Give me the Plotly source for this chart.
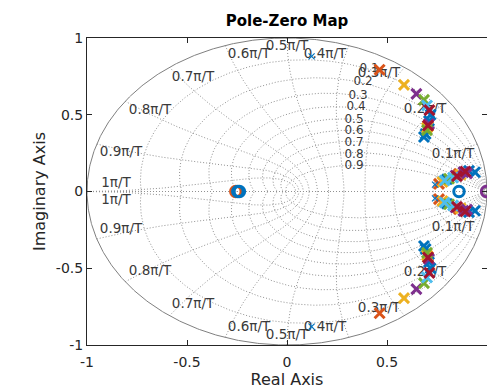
import numpy as np
import plotly.graph_objects as go

# ---------------- data ----------------
colors = ['#0072BD', '#D95319', '#EDB120', '#7E2F8E', '#77AC30', '#4DBEEE', '#A2142F']

# poles in the upper half plane (each also has its conjugate), one pair of lists per colour
blue_re = [0.718, 0.710, 0.693, 0.685, 0.800, 0.910, 0.940]
blue_im = [0.500, 0.460, 0.375, 0.355, 0.080, 0.135, 0.125]
orange_re = [0.463, 0.705, 0.760, 0.860]
orange_im = [0.793, 0.425, 0.050, 0.115]
yellow_re = [0.585, 0.700, 0.777, 0.868]
yellow_im = [0.695, 0.415, 0.062, 0.110]
purple_re = [0.647, 0.710, 0.843, 0.882, 0.900]
purple_im = [0.636, 0.440, 0.104, 0.126, 0.118]
green_re = [0.685, 0.700, 0.810]
green_im = [0.597, 0.400, 0.083]
cyan_re = [0.700, 0.788, 0.830]
cyan_im = [0.560, 0.072, 0.090]
red_re = [0.712, 0.705, 0.850, 0.892]
red_im = [0.530, 0.430, 0.100, 0.130]

# small (default style) poles
small_re = [0.123, 0.740]
small_im = [0.880, 0.045]

# zeros on the real axis
zero_re = [-0.256, -0.246, -0.238, 0.860, 0.998]
zero_col = [1, 0, 0, 0, 3]

# grid labels
wn_labels = ['0.1\u03c0/T', '0.2\u03c0/T', '0.3\u03c0/T', '0.4\u03c0/T', '0.5\u03c0/T',
             '0.6\u03c0/T', '0.7\u03c0/T', '0.8\u03c0/T', '0.9\u03c0/T', '1\u03c0/T']
wn_lab_x = [0.83, 0.69, 0.46, 0.19, 0.0, -0.19, -0.47, -0.685, -0.83, -0.855]
wn_lab_y = [0.238, 0.531, 0.765, 0.889, 0.941, 0.889, 0.739, 0.524, 0.251, 0.049]
zeta_labels = ['0.1', '0.2', '0.3', '0.4', '0.5', '0.6', '0.7', '0.8', '0.9']
zeta_lab_x = [0.41, 0.38, 0.355, 0.345, 0.335, 0.335, 0.335, 0.335, 0.335]
zeta_lab_y = [0.798, 0.713, 0.622, 0.55, 0.466, 0.394, 0.316, 0.238, 0.166]

tick_vals = [-1, -0.5, 0, 0.5, 1]
tick_text = ['-1', '-0.5', '0', '0.5', '1']

FONT = 'DejaVu Sans'
GRID = 'rgb(145,145,145)'
TXT = '#3a3a3a'

fig = go.Figure()

# ---------------- z-plane grid ----------------
gx, gy = [], []
# constant natural frequency curves
for k in range(1, 11):
    wn = k * np.pi / 10
    z = np.linspace(0, 1, 300)
    c = np.exp(wn * (-z + 1j * np.sqrt(1 - z ** 2)))
    for s in (1, -1):
        gx += list(c.real) + [None]
        gy += list(s * c.imag) + [None]
# constant damping curves
for zt in [0.1, 0.2, 0.3, 0.4, 0.5, 0.6, 0.7, 0.8, 0.9]:
    w = np.linspace(0, np.pi / np.sqrt(1 - zt ** 2), 400)
    c = np.exp(w * (-zt + 1j * np.sqrt(1 - zt ** 2)))
    for s in (1, -1):
        gx += list(c.real) + [None]
        gy += list(s * c.imag) + [None]
# real axis
gx += [-1, 1, None]
gy += [0, 0, None]
fig.add_trace(go.Scatter(x=gx, y=gy, mode='lines', hoverinfo='skip',
                         line=dict(color=GRID, width=1, dash='1px,2px')))

# unit circle
th = np.linspace(0, 2 * np.pi, 721)
fig.add_trace(go.Scatter(x=np.cos(th), y=np.sin(th), mode='lines', hoverinfo='skip',
                         line=dict(color='rgb(128,128,128)', width=1)))

# grid labels (as text traces, below the markers)
fig.add_trace(go.Scatter(x=wn_lab_x + wn_lab_x[:-1] + [wn_lab_x[-1]],
                         y=wn_lab_y + [-v for v in wn_lab_y[:-1]] + [-0.062],
                         text=wn_labels + wn_labels, mode='text',
                         textfont=dict(family=FONT, size=13.5, color=TXT), hoverinfo='skip'))
fig.add_trace(go.Scatter(x=zeta_lab_x, y=zeta_lab_y, text=zeta_labels, mode='text',
                         textfont=dict(family=FONT, size=12, color=TXT), hoverinfo='skip'))

# ---------------- zeros ----------------
for xr, ci in zip(zero_re, zero_col):
    fig.add_trace(go.Scatter(x=[xr], y=[0], mode='markers',
                             marker=dict(symbol='circle-open', size=10.5, color=colors[ci],
                                         line=dict(width=3, color=colors[ci]))))

# ---------------- poles ----------------
series = [(blue_re, blue_im, 0), (orange_re, orange_im, 1), (yellow_re, yellow_im, 2),
          (purple_re, purple_im, 3), (green_re, green_im, 4), (cyan_re, cyan_im, 5),
          (red_re, red_im, 6)]
for re_, im_, ci in series:
    fig.add_trace(go.Scatter(x=re_ + re_, y=im_ + [-v for v in im_], mode='markers',
                             marker=dict(symbol='x-thin-open', size=10, color=colors[ci],
                                         line=dict(width=3, color=colors[ci]))))
fig.add_trace(go.Scatter(x=small_re + small_re, y=small_im + [-v for v in small_im],
                         mode='markers',
                         marker=dict(symbol='x-thin-open', size=6, color=colors[0],
                                     line=dict(width=1.2, color=colors[0]))))

axis_common = dict(range=[-1, 1], tickvals=tick_vals, ticktext=tick_text, ticks='inside',
                   ticklen=5, tickcolor='#262626', showline=True, linecolor='#262626',
                   linewidth=1, mirror='ticks', showgrid=False, zeroline=False,
                   tickfont=dict(family=FONT, size=14, color='#262626'))

fig.update_layout(
    width=487, height=390,
    margin=dict(l=87, r=0, t=38, b=45),
    paper_bgcolor='white', plot_bgcolor='white', showlegend=False,
    title=dict(text='<b>Pole-Zero Map</b>', x=0.5, xref='paper', xanchor='center',
               y=1 - 21 / 390, yref='container', yanchor='middle',
               font=dict(family=FONT, size=15, color='black')),
    xaxis=dict(axis_common, ticklabelstandoff=4,
               title=dict(text='Real Axis', standoff=2,
                          font=dict(family=FONT, size=16, color='#262626'))),
    yaxis=dict(axis_common,
               title=dict(text='Imaginary Axis', standoff=6,
                          font=dict(family=FONT, size=16, color='#262626'))),
)

fig.write_html('out.html')
